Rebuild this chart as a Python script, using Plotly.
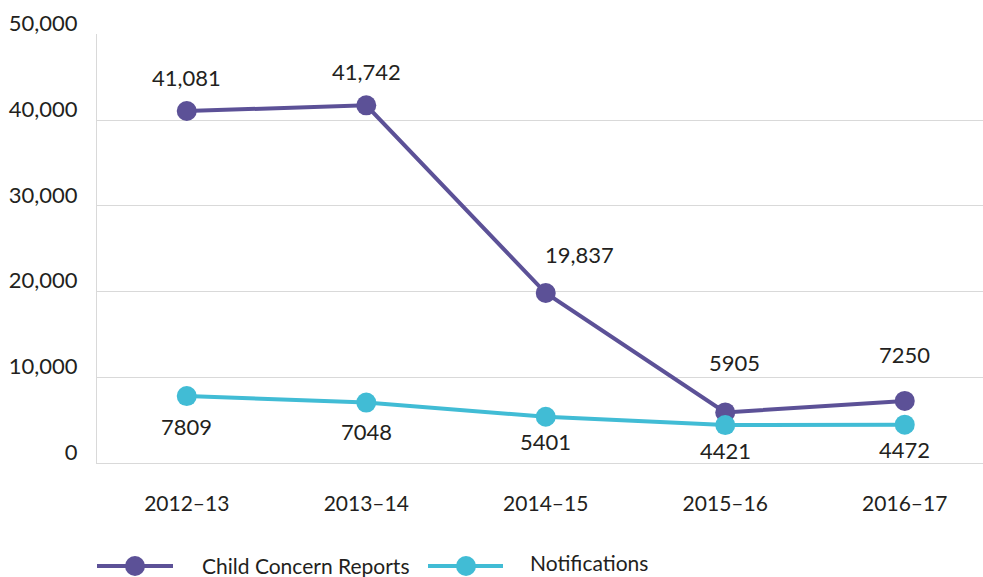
import plotly.graph_objects as go

years = ["2012–13", "2013–14", "2014–15", "2015–16", "2016–17"]
child_concern = [41081, 41742, 19837, 5905, 7250]
notifications = [7809, 7048, 5401, 4421, 4472]
y_ticks = [0, 10000, 20000, 30000, 40000, 50000]
y_tick_text = ["0", "10,000", "20,000", "30,000", "40,000", "50,000"]

# label pixel offsets (style)
cc_dy = [34, 34, 39, 50, 46]
cc_dx = [0, 0, 34, 9, 0]
nt_dy = [-30, -29, -25, -25, -25]

PURPLE = "#5C5197"
CYAN = "#41BCD5"
TXT = "#231F20"
FONT = "Lato"

def fmt(v):
    return f"{v:,}" if v >= 10000 else str(v)

fig = go.Figure()
fig.add_trace(go.Scatter(x=years, y=child_concern, mode="lines+markers",
                         line=dict(color=PURPLE, width=4),
                         marker=dict(color=PURPLE, size=20),
                         name="Child Concern Reports", showlegend=False))
fig.add_trace(go.Scatter(x=years, y=notifications, mode="lines+markers",
                         line=dict(color=CYAN, width=4),
                         marker=dict(color=CYAN, size=20),
                         name="Notifications", showlegend=False))

annots = []
for x, v, d, dx in zip(years, child_concern, cc_dy, cc_dx):
    annots.append(dict(x=x, y=v, text=fmt(v), showarrow=False, yshift=d,
                       xshift=dx,
                       font=dict(family=FONT, size=22, color=TXT)))
for x, v, d in zip(years, notifications, nt_dy):
    annots.append(dict(x=x, y=v, text=fmt(v), showarrow=False, yshift=d,
                       font=dict(family=FONT, size=22, color=TXT)))

L, W, B, H = 97, 886, 463, 429
def px(p):
    return (p - L) / W
def py(p):
    return (B - p) / H

shapes = []
legend_items = [("Child Concern Reports", PURPLE, 97, 173, 135, 200, 565),
                ("Notifications", CYAN, 428, 503, 466, 528, 562)]
for name, col, x0, x1, cx, tx, ty in legend_items:
    shapes.append(dict(type="line", xref="paper", yref="paper",
                       x0=px(x0), x1=px(x1), y0=py(566), y1=py(566),
                       line=dict(color=col, width=4)))
    shapes.append(dict(type="circle", xref="paper", yref="paper",
                       xsizemode="pixel", ysizemode="pixel",
                       xanchor=px(cx), yanchor=py(566),
                       x0=-10, x1=10, y0=-10, y1=10,
                       fillcolor=col, line=dict(color=col, width=0)))
    annots.append(dict(xref="paper", yref="paper", x=px(tx), y=py(ty),
                       xanchor="left", yanchor="middle", showarrow=False,
                       text=name, font=dict(family=FONT, size=21, color=TXT)))

fig.update_layout(
    width=983, height=577,
    margin=dict(l=97, r=0, t=34, b=114, pad=0),
    paper_bgcolor="white", plot_bgcolor="white",
    font=dict(family=FONT, size=20, color=TXT),
    showlegend=False,
    annotations=annots, shapes=shapes,
    xaxis=dict(range=[-0.5, 4.436], showgrid=False, zeroline=False,
               showline=True, linecolor="#D9D9D9", linewidth=1,
               ticks="", ticklabelstandoff=22,
               tickfont=dict(family=FONT, size=21, color=TXT)),
    yaxis=dict(range=[0, 50070], tickvals=y_ticks, ticktext=y_tick_text,
               showgrid=True, gridcolor="#D9D9D9", gridwidth=1,
               zeroline=False, showline=True, linecolor="#D9D9D9",
               linewidth=1, ticks="", ticklabelstandoff=14,
               ticklabelshift=-11,
               tickfont=dict(family=FONT, size=22, color=TXT)),
)

fig.write_html("out.html",
               config={"displayModeBar": False},
               post_script="document.body.style.margin='0';"
                           "document.body.style.overflow='hidden';")
